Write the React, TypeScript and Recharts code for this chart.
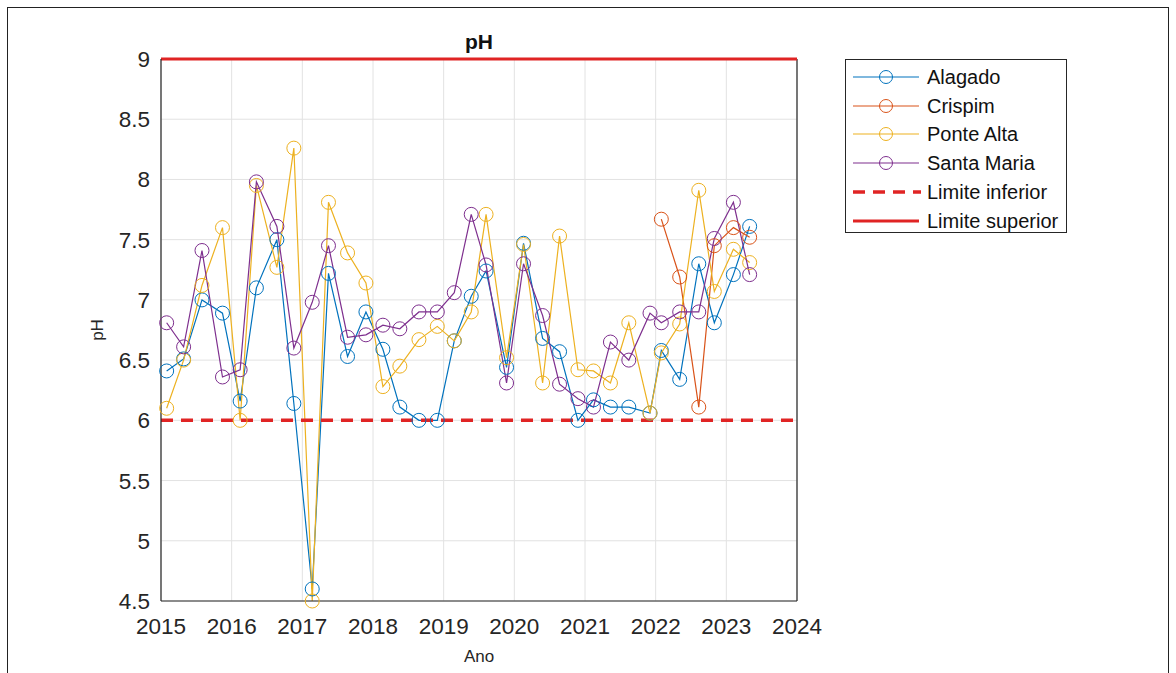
import { LineChart, Line, XAxis, YAxis, CartesianGrid, ReferenceLine } from "recharts";

// sampling dates (fractional year)
const T = [
  2015.08, 2015.32, 2015.58, 2015.87, 2016.12, 2016.35, 2016.64, 2016.88,
  2017.14, 2017.37, 2017.64, 2017.9, 2018.14, 2018.38, 2018.65, 2018.91,
  2019.15, 2019.39, 2019.6, 2019.89, 2020.13, 2020.4, 2020.64, 2020.9,
  2021.12, 2021.36, 2021.62, 2021.92, 2022.08, 2022.34, 2022.61, 2022.83,
  2023.1, 2023.33,
];
const CRISPIM_T = [2022.08, 2022.34, 2022.61, 2022.83, 2023.1, 2023.33];

const ALAGADO = [
  6.41, 6.51, 7.0, 6.89, 6.16, 7.1, 7.5, 6.14, 4.6, 7.22, 6.53, 6.9, 6.59, 6.11, 6.0, 6.0,
  6.66, 7.03, 7.24, 6.44, 7.47, 6.68, 6.57, 6.0, 6.17, 6.11, 6.11, 6.06, 6.58, 6.34, 7.3, 6.81,
  7.21, 7.61,
];
const CRISPIM = [7.67, 7.19, 6.11, 7.45, 7.6, 7.52];
const PONTE_ALTA = [
  6.1, 6.5, 7.12, 7.6, 6.0, 7.95, 7.27, 8.26, 4.5, 7.81, 7.39, 7.14, 6.28, 6.45, 6.67, 6.78,
  6.66, 6.9, 7.71, 6.52, 7.46, 6.31, 7.53, 6.42, 6.41, 6.31, 6.81, 6.06, 6.56, 6.8, 7.91, 7.07,
  7.42, 7.31,
];
const SANTA_MARIA = [
  6.81, 6.61, 7.41, 6.36, 6.42, 7.98, 7.61, 6.6, 6.98, 7.45, 6.69, 6.71, 6.79, 6.76, 6.9, 6.9,
  7.06, 7.71, 7.29, 6.31, 7.3, 6.87, 6.3, 6.18, 6.11, 6.65, 6.5, 6.89, 6.81, 6.9, 6.9, 7.51,
  7.81, 7.21,
];

const LIMITE_INFERIOR = 6;
const LIMITE_SUPERIOR = 9;

const X_TICKS = [2015, 2016, 2017, 2018, 2019, 2020, 2021, 2022, 2023, 2024];
const Y_TICKS = [4.5, 5, 5.5, 6, 6.5, 7, 7.5, 8, 8.5, 9];

const FONT = "'Liberation Sans', Arial, sans-serif";
const RED = "#e02424";
const INK = "#262626";

const series = [
  { name: "Alagado", color: "#0072BD", t: T, v: ALAGADO },
  { name: "Crispim", color: "#D95319", t: CRISPIM_T, v: CRISPIM },
  { name: "Ponte Alta", color: "#EDB120", t: T, v: PONTE_ALTA },
  { name: "Santa Maria", color: "#7E2F8E", t: T, v: SANTA_MARIA },
].map((s) => ({ ...s, data: s.t.map((t, i) => ({ t, ph: s.v[i] })) }));

function LegendBox() {
  const rows = [
    ...series.map((s) => ({ name: s.name, color: s.color, kind: "marker" })),
    { name: "Limite inferior", color: RED, kind: "dash" },
    { name: "Limite superior", color: RED, kind: "solid" },
  ];
  return (
    <div
      style={{
        position: "absolute",
        left: 845,
        top: 59,
        width: 220,
        height: 172,
        border: `1px solid ${INK}`,
        background: "#fff",
        fontFamily: FONT,
      }}
    >
      {rows.map((r, i) => {
        const cy = 17 + i * 28.7;
        return (
          <div key={r.name} style={{ position: "absolute", left: 0, top: cy - 14, height: 28, width: 220 }}>
            <svg width={76} height={28} style={{ position: "absolute", left: 0, top: 0 }}>
              {r.kind === "marker" && (
                <>
                  <line x1={7} x2={73} y1={14} y2={14} stroke={r.color} strokeWidth={1.2} />
                  <circle cx={40} cy={14} r={6.5} fill="none" stroke={r.color} strokeWidth={1} />
                </>
              )}
              {r.kind === "dash" && (
                <line x1={7} x2={75} y1={14} y2={14} stroke={r.color} strokeWidth={3.5} strokeDasharray="12 8" />
              )}
              {r.kind === "solid" && <line x1={7} x2={73} y1={14} y2={14} stroke={r.color} strokeWidth={3} />}
            </svg>
            <span
              style={{
                position: "absolute",
                left: 81,
                top: 0,
                lineHeight: "28px",
                fontSize: 20,
                color: "#111",
                whiteSpace: "nowrap",
              }}
            >
              {r.name}
            </span>
          </div>
        );
      })}
    </div>
  );
}

export default function App() {
  return (
    <div style={{ position: "relative", width: 1176, height: 673, overflow: "hidden", background: "#fff", fontFamily: FONT }}>
      <style>{`body{margin:0;}`}</style>
      <div
        style={{
          position: "absolute",
          left: 7,
          top: 7,
          width: 1160,
          height: 700,
          border: "1.5px solid #222",
        }}
      />
      <div style={{ position: "absolute", left: 0, top: 0 }}>
        <LineChart width={1176} height={673} margin={{ top: 59, right: 379, bottom: 32, left: 101 }}>
          <CartesianGrid stroke="#e2e2e2" strokeWidth={1} />
          <XAxis
            dataKey="t"
            type="number"
            domain={[2015, 2024]}
            ticks={X_TICKS}
            allowDuplicatedCategory={false}
            height={40}
            tickLine={false}
            tickMargin={11}
            axisLine={{ stroke: INK, strokeWidth: 1.2 }}
            tick={{ fill: INK, fontSize: 22.5, fontFamily: FONT }}
          />
          <YAxis
            dataKey="ph"
            type="number"
            domain={[4.5, 9]}
            ticks={Y_TICKS}
            width={60}
            tickLine={false}
            tickMargin={5}
            axisLine={{ stroke: INK, strokeWidth: 1.2 }}
            tick={{ fill: INK, fontSize: 22.5, fontFamily: FONT }}
          />
          <ReferenceLine x={2024} stroke={INK} strokeWidth={1.2} />
          {series.map((s) => (
            <Line
              key={s.name}
              data={s.data}
              dataKey="ph"
              name={s.name}
              type="linear"
              stroke={s.color}
              strokeWidth={1.2}
              dot={{ r: 7, fill: "none", stroke: s.color, strokeWidth: 1 }}
              activeDot={false}
              isAnimationActive={false}
            />
          ))}
          <ReferenceLine y={LIMITE_INFERIOR} stroke={RED} strokeWidth={3.5} strokeDasharray="12 8" />
          <ReferenceLine y={LIMITE_SUPERIOR} stroke={RED} strokeWidth={3} />
        </LineChart>
      </div>
      <LegendBox />
      <div
        style={{
          position: "absolute",
          left: 479,
          top: 52,
          transform: "translate(-50%, -100%)",
          fontSize: 21,
          fontWeight: "bold",
          color: "#111",
          lineHeight: 1,
        }}
      >
        pH
      </div>
      <div
        style={{
          position: "absolute",
          left: 479,
          top: 657,
          transform: "translate(-50%, -50%)",
          fontSize: 17,
          color: INK,
        }}
      >
        Ano
      </div>
      <div
        style={{
          position: "absolute",
          left: 98,
          top: 330,
          transform: "translate(-50%, -50%) rotate(-90deg)",
          fontSize: 17,
          color: INK,
        }}
      >
        pH
      </div>
    </div>
  );
}
